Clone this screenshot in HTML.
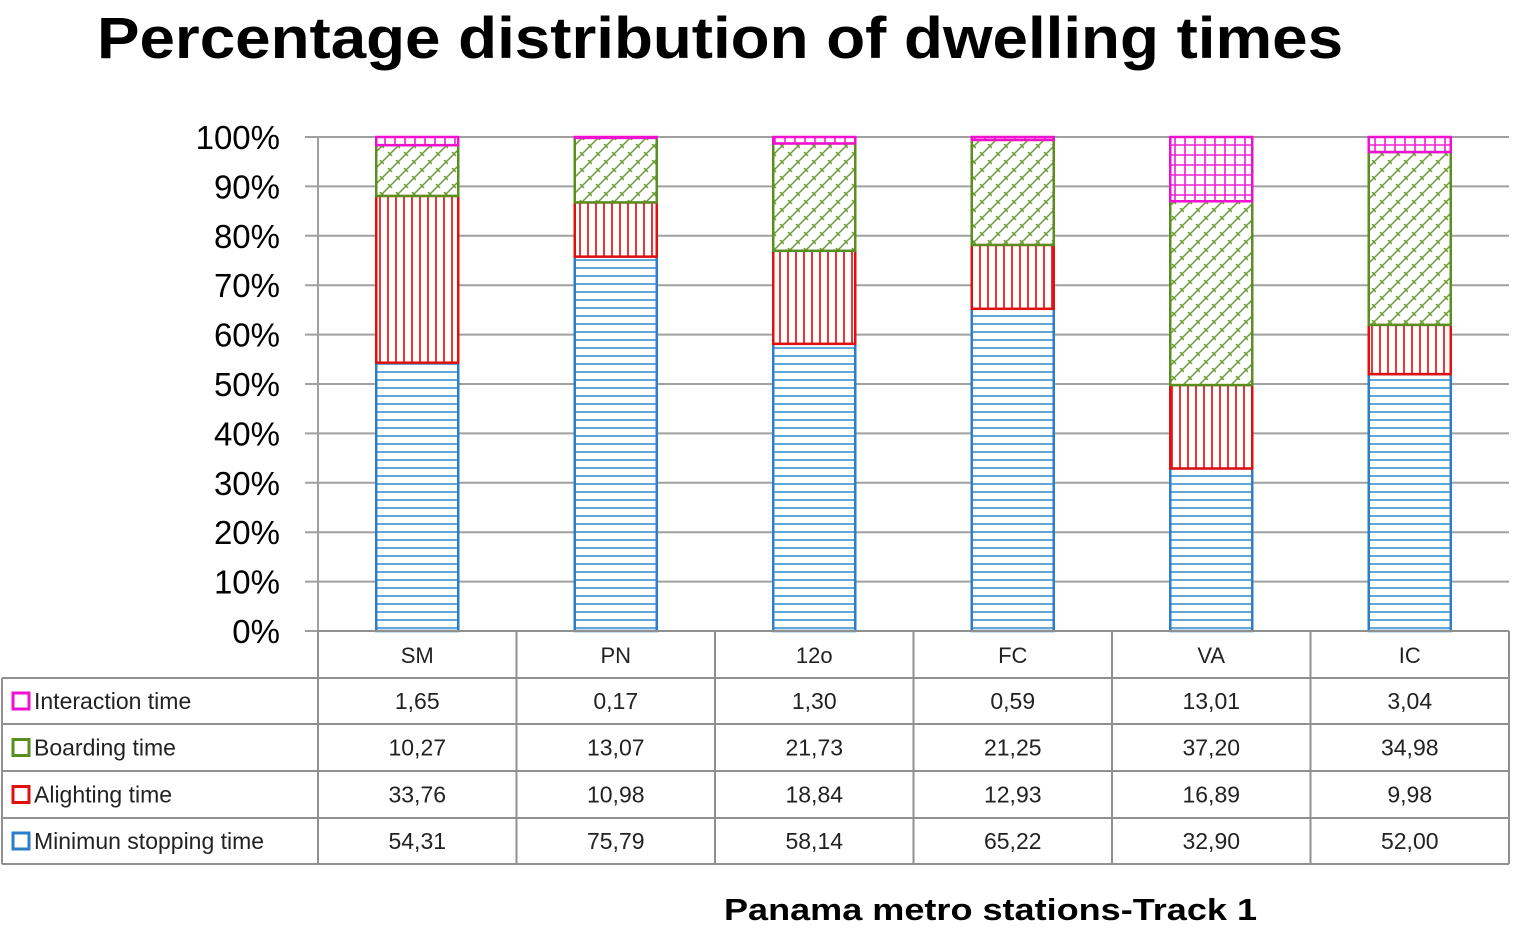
<!DOCTYPE html>
<html><head><meta charset="utf-8"><style>
body{margin:0;background:#fff}
svg text{font-family:"Liberation Sans",sans-serif}
</style></head><body>
<svg id="c" width="1513" height="927" xmlns="http://www.w3.org/2000/svg">
<defs>
<pattern id="pBlue" width="8" height="8" patternUnits="userSpaceOnUse"><rect width="8" height="8" fill="#fff"/><line x1="0" y1="4" x2="8" y2="4" stroke="#3a8fd0" stroke-width="1.6"/></pattern>
<pattern id="pRed" width="8" height="8" patternUnits="userSpaceOnUse"><rect width="8" height="8" fill="#fff"/><line x1="4" y1="0" x2="4" y2="8" stroke="#e82020" stroke-width="1.8"/></pattern>
<pattern id="pGreen" width="16" height="16" patternUnits="userSpaceOnUse"><rect width="16" height="16" fill="#fff"/><path d="M0 16 L16 0 M-4 4 L4 -4 M12 20 L20 12 M4 8 L8 12 M12 0 L16 4" stroke="#6a9a30" stroke-width="1.5" fill="none"/></pattern>
<pattern id="pPink" width="10" height="10" patternUnits="userSpaceOnUse"><rect width="10" height="10" fill="#fff"/><path d="M5 0 V10 M0 5 H10" stroke="#f020d0" stroke-width="1.6"/></pattern>
</defs>
<text x="97" y="58" textLength="1246" lengthAdjust="spacingAndGlyphs" font-size="58" font-weight="bold">Percentage distribution of dwelling times</text>
<g id="grid"></g>
<g id="bars"></g>
<g id="table"></g>
<text x="724" y="920" textLength="533" lengthAdjust="spacingAndGlyphs" font-size="31" font-weight="bold">Panama metro stations-Track  1</text>
</svg>
<script>
const categories=["SM","PN","12o","FC","VA","IC"];
const seriesNames=["Interaction time","Boarding time","Alighting time","Minimun stopping time"];
const minimum=[54.31,75.79,58.14,65.22,32.90,52.00];
const alighting=[33.76,10.98,18.84,12.93,16.89,9.98];
const boarding=[10.27,13.07,21.73,21.25,37.20,34.98];
const interaction=[1.65,0.17,1.30,0.59,13.01,3.04];
const yTicks=[0,10,20,30,40,50,60,70,80,90,100];
const NS="http://www.w3.org/2000/svg";
const x0=318,x1=1509,y0=631,y1=137,cw=(x1-x0)/categories.length,bw=82;
const y=v=>y0-(y0-y1)*v/100;
const xc=i=>x0+cw*(i+0.5);
function mk(t,a,p){const e=document.createElementNS(NS,t);for(const k in a)e.setAttribute(k,a[k]);p.appendChild(e);return e;}
const g=document.getElementById('grid');
yTicks.forEach(t=>{
 const l=mk('line',{x1:305,x2:x1,y1:y(t),y2:y(t),stroke:'#a0a0a0','stroke-width':2},g);
 
 
 const tx=mk('text',{x:280,y:y(t)+12,'text-anchor':'end','font-size':33},g);
 tx.textContent=t+'%';
 
 
});
mk('line',{x1:x0,x2:x0,y1:y1,y2:y0,stroke:'#a0a0a0','stroke-width':2},g);
const series=[[minimum,'pBlue','#2a7fc8','minimum'],[alighting,'pRed','#e01010','alighting'],[boarding,'pGreen','#5a8f20','boarding'],[interaction,'pPink','#f010d0','interaction']];
const bg=document.getElementById('bars');
categories.forEach((c,i)=>{
 const tot=minimum[i]+alighting[i]+boarding[i]+interaction[i];
 let acc=0;
 series.forEach(s=>{
  const v=s[0][i]/tot*100;
  const r=mk('rect',{x:xc(i)-bw/2,y:y(acc+v),width:bw,height:y(acc)-y(acc+v),fill:'url(#'+s[1]+')',stroke:s[2],'stroke-width':2.5},bg);
  
  
  acc+=v;
 });
});
const tb=document.getElementById('table');
const rows=[631,678,724,771,818,864];
const rowData=[interaction,boarding,alighting,minimum];
const sw=['#f010d0','#5a8f20','#e01010','#2a7fc8'];
const st='#909090';
mk('line',{x1:x0,x2:x1,y1:rows[0],y2:rows[0],stroke:st,'stroke-width':2},tb);
for(let r=1;r<rows.length;r++)mk('line',{x1:2,x2:x1,y1:rows[r],y2:rows[r],stroke:st,'stroke-width':2},tb);
mk('line',{x1:2,x2:2,y1:rows[1],y2:rows[5],stroke:st,'stroke-width':2},tb);
for(let i=0;i<=categories.length;i++)mk('line',{x1:x0+cw*i,x2:x0+cw*i,y1:rows[0],y2:rows[5],stroke:st,'stroke-width':2},tb);
categories.forEach((c,i)=>{
 const t=mk('text',{x:xc(i),y:663,'text-anchor':'middle','font-size':22,fill:'#222'},tb);
 t.textContent=c;
 
 
});
rowData.forEach((arr,r)=>{
 const cy=(rows[r+1]+rows[r+2])/2;
 mk('rect',{x:13,y:cy-8,width:16,height:16,fill:'#fff',stroke:sw[r],'stroke-width':3},tb);
 const lt=mk('text',{x:34,y:cy+8,'font-size':23,fill:'#222'},tb);
 lt.textContent=seriesNames[r];
 
 
 arr.forEach((v,i)=>{
  const t=mk('text',{x:xc(i),y:cy+8,'text-anchor':'middle','font-size':23,fill:'#222'},tb);
  t.textContent=v.toFixed(2).replace('.',',');
  
  
 });
});
</script>
</body></html>
